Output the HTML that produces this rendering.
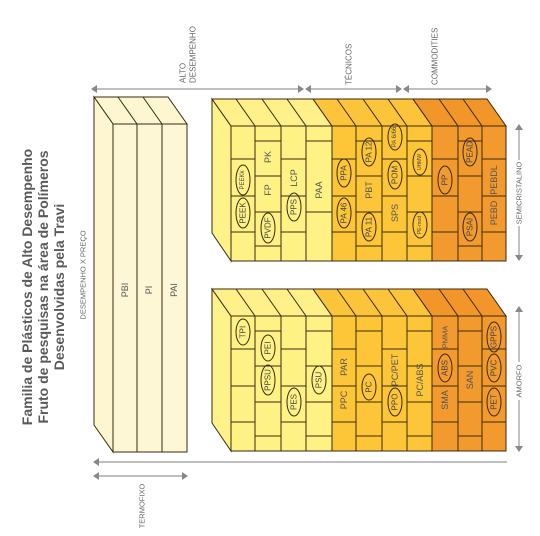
<!DOCTYPE html>
<html><head><meta charset="utf-8"><style>
html,body{margin:0;padding:0;background:#fff;}
svg{display:block;font-family:"Liberation Sans",sans-serif;}
.l{font-size:9px;fill:#555;text-anchor:middle;dominant-baseline:central;}
.o{font-size:8px;fill:#444;text-anchor:middle;dominant-baseline:central;}
.a{font-size:7.5px;fill:#666;text-anchor:middle;dominant-baseline:central;}
.s{font-size:8px;fill:#666;text-anchor:start;dominant-baseline:central;}
.t{font-size:14px;font-weight:bold;fill:#5a5a5a;text-anchor:middle;dominant-baseline:central;}
.e{fill:none;stroke:#3a2a10;stroke-width:1;}
.k{stroke:#3a2a10;stroke-width:1;}
.ar{stroke:#999;stroke-width:1.2;fill:none;}
.ah{fill:#888;}
</style></head><body>
<svg width="540" height="536" viewBox="0 0 540 536">
<text class="t" transform="translate(27,287) rotate(-90)">Familia de Plásticos de Alto Desempenho</text>
<text class="t" transform="translate(43,287) rotate(-90)">Fruto de pesquisas na área de Polímeros</text>
<text class="t" transform="translate(59,287) rotate(-90)">Desenvolvidas pela Travi</text>
<text class="a" transform="translate(83,275) rotate(-90)">DESEMPENHO X PREÇO</text>

<g class="k">
<polygon points="94,97 168,97 187,124 113,124" fill="#fef6d0"/>
<polygon points="94,97 113,124 113,452 94,425" fill="#fef6d0"/>
<rect x="113" y="124" width="74" height="328" fill="#fef7d6"/>
<line x1="137" y1="124" x2="137" y2="452"/><line x1="162" y1="124" x2="162" y2="452"/>
<line x1="118" y1="97" x2="137" y2="124"/><line x1="143" y1="97" x2="162" y2="124"/>
</g>
<text class="l" transform="translate(125,290) rotate(-90)">PBI</text>
<text class="l" transform="translate(149,290) rotate(-90)">PI</text>
<text class="l" transform="translate(174,290) rotate(-90)">PAI</text>

<g class="k">
<polygon points="212,99 231,126 231,261 212,233" fill="#fff28a"/>
<polygon points="212,99 313,99 332,126 231,126" fill="#fff08a"/>
<polygon points="313,99 413,99 432,126 332,126" fill="#fcc43a"/>
<polygon points="413,99 487,99 506,126 432,126" fill="#f2962a"/>
<line x1="236" y1="99" x2="255" y2="126"/><line x1="262" y1="99" x2="281" y2="126"/><line x1="287" y1="99" x2="306" y2="126"/>
<line x1="337" y1="99" x2="356" y2="126"/><line x1="363" y1="99" x2="382" y2="126"/><line x1="388" y1="99" x2="407" y2="126"/>
<line x1="439" y1="99" x2="458" y2="126"/><line x1="463" y1="99" x2="482" y2="126"/>
<rect x="231" y="126" width="101" height="135" fill="#fff285"/>
<rect x="332" y="126" width="100" height="135" fill="#fcc638"/>
<rect x="432" y="126" width="74" height="135" fill="#f29a2e"/>
<line x1="255" y1="126" x2="255" y2="261"/><line x1="281" y1="126" x2="281" y2="261"/><line x1="306" y1="126" x2="306" y2="261"/><line x1="332" y1="126" x2="332" y2="261"/>
<line x1="356" y1="126" x2="356" y2="261"/><line x1="382" y1="126" x2="382" y2="261"/><line x1="407" y1="126" x2="407" y2="261"/><line x1="432" y1="126" x2="432" y2="261"/>
<line x1="458" y1="126" x2="458" y2="261"/><line x1="482" y1="126" x2="482" y2="261"/>
<path class="e" d="M231 159H255M231 196H255M231 232H255
M255 141H281M255 176H281M255 212H281M255 246H281
M281 159H306M281 196H306M281 232H306
M306 141H332M306 212H332
M332 159H356M332 196H356M332 232H356
M356 141H382M356 176H382M356 212H382M356 246H382
M382 159H407M382 196H407M382 232H407
M407 141H432M407 176H432M407 212H432M407 246H432
M432 159H458M432 196H458M432 232H458
M458 141H482M458 176H482M458 212H482M458 246H482
M482 159H506M482 196H506M482 232H506"/>
</g>
<g class="e">
<ellipse cx="243" cy="180" rx="7" ry="15"/><ellipse cx="243" cy="213" rx="7" ry="15"/>
<ellipse cx="268" cy="228" rx="7" ry="15"/><ellipse cx="294" cy="207" rx="7" ry="14"/>
<ellipse cx="344" cy="173" rx="7" ry="14"/><ellipse cx="344" cy="213" rx="7" ry="15"/>
<ellipse cx="369" cy="152" rx="7" ry="14"/><ellipse cx="369" cy="227" rx="7" ry="14"/>
<ellipse cx="395" cy="137" rx="7" ry="13"/><ellipse cx="395" cy="175" rx="7" ry="14"/>
<ellipse cx="420" cy="162" rx="7" ry="13"/><ellipse cx="420" cy="225" rx="7" ry="13"/>
<ellipse cx="445" cy="180" rx="7" ry="14"/><ellipse cx="470" cy="152" rx="7" ry="14"/><ellipse cx="470" cy="227" rx="7" ry="14"/>
</g>
<text class="o" style="font-size:6px" transform="translate(243,180) rotate(-90)">PEEKk</text>
<text class="o" transform="translate(243,213) rotate(-90)">PEEK</text>
<text class="l" transform="translate(268,157) rotate(-90)">PK</text>
<text class="l" transform="translate(268,190) rotate(-90)">FP</text>
<text class="o" transform="translate(268,228) rotate(-90)">PVDF</text>
<text class="l" transform="translate(294,178) rotate(-90)">LCP</text>
<text class="o" transform="translate(294,207) rotate(-90)">PPS</text>
<text class="l" transform="translate(319,190) rotate(-90)">PAA</text>
<text class="o" transform="translate(344,173) rotate(-90)">PPA</text>
<text class="o" transform="translate(344,213) rotate(-90)">PA 46</text>
<text class="o" transform="translate(369,152) rotate(-90)">PA 12</text>
<text class="l" transform="translate(369,190) rotate(-90)">PBT</text>
<text class="o" transform="translate(369,227) rotate(-90)">PA 11</text>
<text class="o" style="font-size:6px" transform="translate(395,137) rotate(-90)">PA 6/66</text>
<text class="o" transform="translate(395,175) rotate(-90)">POM</text>
<text class="l" transform="translate(395,213) rotate(-90)">SPS</text>
<text class="o" style="font-size:5px" transform="translate(420,162) rotate(-90)">UHMW</text>
<text class="o" style="font-size:5px" transform="translate(420,225) rotate(-90)">PE-mod</text>
<text class="o" transform="translate(445,180) rotate(-90)">PP</text>
<text class="o" transform="translate(470,152) rotate(-90)">PEAD</text>
<text class="o" transform="translate(470,227) rotate(-90)">PSAI</text>
<text class="l" transform="translate(494,180) rotate(-90)">PEBDL</text>
<text class="l" transform="translate(494,213) rotate(-90)">PEBD</text>

<g class="k">
<polygon points="212,289 231,316 231,451 212,423" fill="#fff28a"/>
<polygon points="212,289 313,289 332,316 231,316" fill="#fff08a"/>
<polygon points="313,289 413,289 432,316 332,316" fill="#fcc43a"/>
<polygon points="413,289 487,289 506,316 432,316" fill="#f2962a"/>
<line x1="236" y1="289" x2="255" y2="316"/><line x1="262" y1="289" x2="281" y2="316"/><line x1="287" y1="289" x2="306" y2="316"/>
<line x1="337" y1="289" x2="356" y2="316"/><line x1="363" y1="289" x2="382" y2="316"/><line x1="388" y1="289" x2="407" y2="316"/>
<line x1="439" y1="289" x2="458" y2="316"/><line x1="463" y1="289" x2="482" y2="316"/>
<rect x="231" y="316" width="101" height="135" fill="#fff285"/>
<rect x="332" y="316" width="100" height="135" fill="#fcc638"/>
<rect x="432" y="316" width="74" height="135" fill="#f29a2e"/>
<line x1="255" y1="316" x2="255" y2="451"/><line x1="281" y1="316" x2="281" y2="451"/><line x1="306" y1="316" x2="306" y2="451"/><line x1="332" y1="316" x2="332" y2="451"/>
<line x1="356" y1="316" x2="356" y2="451"/><line x1="382" y1="316" x2="382" y2="451"/><line x1="407" y1="316" x2="407" y2="451"/><line x1="432" y1="316" x2="432" y2="451"/>
<line x1="458" y1="316" x2="458" y2="451"/><line x1="482" y1="316" x2="482" y2="451"/>
<path class="e" d="M231 349H255M231 386H255M231 422H255
M255 331H281M255 366H281M255 402H281M255 436H281
M281 349H306M281 386H306M281 422H306
M306 331H332M306 366H332M306 402H332M306 436H332
M332 349H356M332 386H356M332 422H356
M356 331H382M356 366H382M356 402H382M356 436H382
M382 349H407M382 386H407M382 422H407
M407 331H432M407 366H432M407 402H432M407 436H432
M432 349H458M432 386H458M432 422H458
M458 331H482M458 366H482M458 402H482M458 436H482
M482 349H506M482 386H506M482 422H506"/>
</g>
<g class="e">
<ellipse cx="243" cy="332" rx="7" ry="13"/><ellipse cx="268" cy="348" rx="7" ry="13"/><ellipse cx="268" cy="380" rx="7" ry="15"/>
<ellipse cx="294" cy="402" rx="7" ry="14"/><ellipse cx="319" cy="380" rx="7" ry="14"/><ellipse cx="369" cy="387" rx="7" ry="13"/>
<ellipse cx="395" cy="402" rx="7" ry="14"/><ellipse cx="445" cy="368" rx="7" ry="14"/>
<ellipse cx="494" cy="337" rx="7" ry="15"/><ellipse cx="494" cy="368" rx="7" ry="14"/><ellipse cx="494" cy="402" rx="7" ry="14"/>
</g>
<text class="o" transform="translate(243,332) rotate(-90)">TPI</text>
<text class="o" transform="translate(268,348) rotate(-90)">PEI</text>
<text class="o" transform="translate(268,380) rotate(-90)">PPSU</text>
<text class="o" transform="translate(294,402) rotate(-90)">PES</text>
<text class="o" transform="translate(319,380) rotate(-90)">PSU</text>
<text class="l" transform="translate(344,367) rotate(-90)">PAR</text>
<text class="l" transform="translate(344,400) rotate(-90)">PPC</text>
<text class="o" transform="translate(369,387) rotate(-90)">PC</text>
<text class="l" transform="translate(395,370) rotate(-90)">PC/PET</text>
<text class="o" transform="translate(395,402) rotate(-90)">PPO</text>
<text class="l" transform="translate(420,380) rotate(-90)">PC/ABS</text>
<text class="l" style="font-size:7.5px" transform="translate(445,337) rotate(-90)">PMMA</text>
<text class="o" transform="translate(445,368) rotate(-90)">ABS</text>
<text class="l" transform="translate(445,400) rotate(-90)">SMA</text>
<text class="l" transform="translate(470,380) rotate(-90)">SAN</text>
<text class="o" transform="translate(494,337) rotate(-90)">GPPS</text>
<text class="o" transform="translate(494,368) rotate(-90)">PVC</text>
<text class="o" transform="translate(494,402) rotate(-90)">PET</text>

<line class="ar" x1="96" y1="89" x2="300" y2="89"/>
<line class="ar" x1="308" y1="89" x2="398" y2="89"/>
<line class="ar" x1="406" y1="89" x2="490" y2="89"/>
<path class="ah" d="M91 89L97 85V93ZM304 89L298 85V93ZM305 89L311 85V93ZM402 89L396 85V93ZM403 89L409 85V93ZM492 89L486 85V93Z"/>
<text class="s" transform="translate(183,83) rotate(-90)">ALTO</text>
<text class="s" transform="translate(193,83) rotate(-90)">DESEMPENHO</text>
<text class="s" transform="translate(349,85) rotate(-90)">TÉCNICOS</text>
<text class="s" transform="translate(435,85) rotate(-90)">COMMODITIES</text>

<line class="ar" x1="519" y1="128" x2="519" y2="258"/>
<line class="ar" x1="519" y1="310" x2="519" y2="448"/>
<path class="ah" d="M519 124L515 130H523ZM519 261L515 255H523ZM519 306L515 312H523ZM519 452L515 446H523Z"/>
<rect x="514" y="160" width="10" height="66" fill="#fff"/>
<rect x="514" y="362" width="10" height="38" fill="#fff"/>
<text class="a" transform="translate(519,193) rotate(-90)">SEMICRISTALINO</text>
<text class="a" transform="translate(519,381) rotate(-90)">AMORFO</text>

<line class="ar" x1="97" y1="462" x2="507" y2="462"/>
<path class="ah" d="M93 462L99 458V466Z"/>
<line class="ar" x1="97" y1="476" x2="185" y2="476"/>
<path class="ah" d="M93 476L99 472V480ZM188 476L182 472V480Z"/>
<text class="a" transform="translate(142,506) rotate(-90)">TERMOFIXO</text>
</svg>
</body></html>
